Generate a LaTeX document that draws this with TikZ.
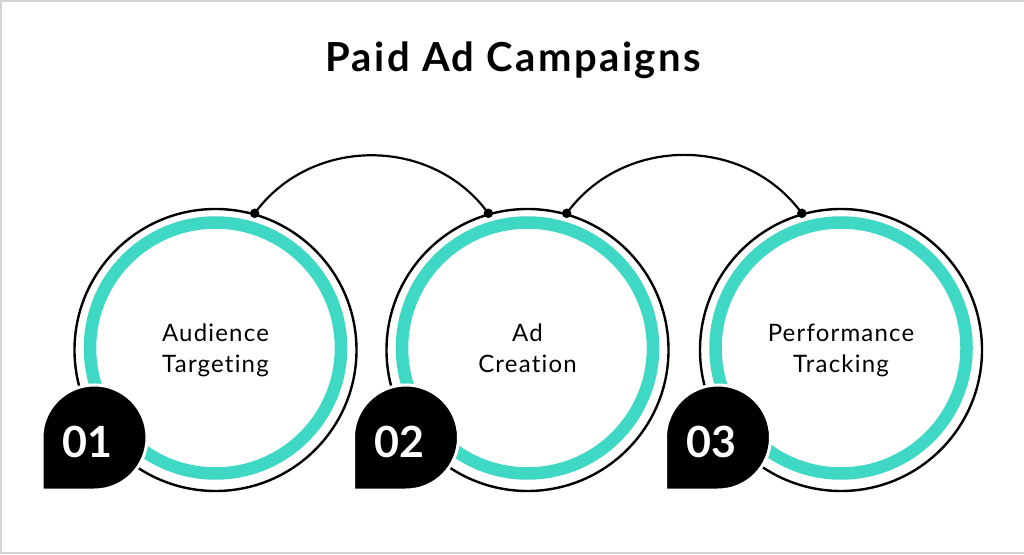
\documentclass[tikz,border=0pt]{standalone}
\usepackage{fontspec}
\setmainfont{Lato}
\newfontfamily\labelfont[LetterSpace=5,Ligatures=NoCommon]{Lato}
\newfontfamily\titlefont[LetterSpace=6,Ligatures=NoCommon]{Lato}
\definecolor{ringteal}{HTML}{3FD8C4}
\definecolor{frame}{HTML}{D4D4D4}
\begin{document}
\begin{tikzpicture}[x=1pt,y=1pt,
  outerc/.style={circle, draw=black, line width=2.4pt, minimum size=282pt, inner sep=0pt},
  ringc/.style={circle, draw=ringteal, line width=12.5pt, minimum size=251pt, inner sep=0pt},
  badge/.style={fill=black, draw=white, line width=3pt},
  numtxt/.style={text=white, font=\bfseries\fontsize{43}{43}\selectfont, inner sep=0pt},
  lbl/.style={align=center, anchor=base, inner sep=0pt, font=\labelfont\fontsize{24}{31}\selectfont},
  link/.style={draw=black, line width=2.2pt},
  dotc/.style={circle, fill=black, inner sep=0pt, minimum size=9.5pt}]
\useasboundingbox (0,0) rectangle (1024,554);
\fill[white] (0,0) rectangle (1024,554);
\draw[frame, line width=2pt] (1024,553) -- (1,553) -- (1,1) -- (1024,1);

\node[font=\titlefont\bfseries\fontsize{40}{40}\selectfont, anchor=base, inner sep=0pt] (title) at (513,482) {Paid Ad Campaigns};

% rings
\foreach \i/\cx in {1/215.5, 2/527.5, 3/841} {
  \node[ringc] (r\i) at (\cx,206) {};
  \node[outerc] (c\i) at (\cx,204) {};
}

% connectors
\draw[link] (c1.74) to[out=54, in=126, looseness=1.05] (c2.106);
\draw[link] (c2.74) to[out=54, in=126, looseness=1.05] (c3.106);
\foreach \p in {c1.74, c2.106, c2.74, c3.106} {
  \node[dotc] at (\p) {};
}

% labels (base anchor = last line's baseline)
\node[lbl] (t1) at (215.5,181) {Audience\\Targeting};
\node[lbl] (t2) at (527.5,181) {Ad\\Creation};
\node[lbl] (t3) at (841,181) {Performance\\Tracking};

% badges
\foreach \i/\bx in {1/94.5, 2/406, 3/718} {
  \path[badge] (\bx-52.5,64) -- (\bx-52.5,116.5) arc[start angle=180, end angle=-90, radius=52.5] -- cycle;
  \coordinate (b\i) at (\bx-7,112.5);
}
\node[numtxt] (n1) at (b1) {01};
\node[numtxt] (n2) at (b2) {02};
\node[numtxt] (n3) at (b3) {03};
\end{tikzpicture}
\end{document}
